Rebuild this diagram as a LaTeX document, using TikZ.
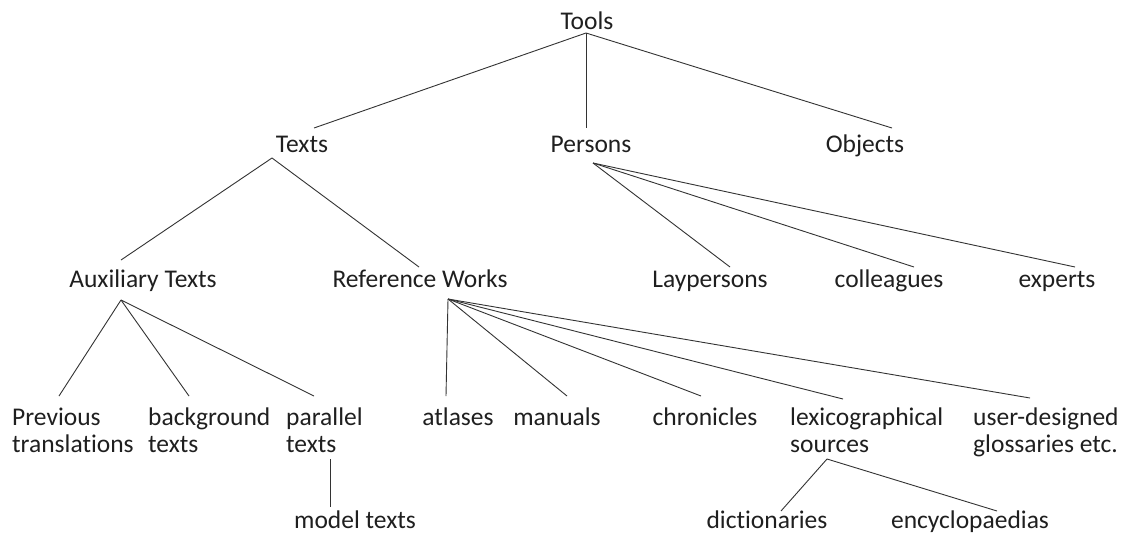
\documentclass[tikz,border=0pt]{standalone}
\usepackage{fontspec}
\setmainfont{Carlito}[Ligatures=NoCommon]
\begin{document}
\begin{tikzpicture}[x=1pt,y=-1pt,
  lbl/.style={inner sep=0pt,font=\fontsize{25.5}{27}\selectfont,text=black!88},
  conn/.style={line width=0.9pt,draw=black!80}]
\useasboundingbox[fill=white] (0,0) rectangle (1123,536);
% level 0
\node[lbl,anchor=base] (tools) at (587,29) {Tools};
% level 1
\node[lbl,anchor=base] (texts) at (302,152) {Texts};
\node[lbl,anchor=base] (persons) at (591,152) {Persons};
\node[lbl,anchor=base] (objects) at (865,152) {Objects};
% level 2
\node[lbl,anchor=base] (aux) at (143,287) {Auxiliary Texts};
\node[lbl,anchor=base] (ref) at (420,287) {Reference Works};
\node[lbl,anchor=base] (lay) at (710,287) {Laypersons};
\node[lbl,anchor=base] (col) at (889,287) {colleagues};
\node[lbl,anchor=base] (exp) at (1057,287) {experts};
% level 3
\node[lbl,anchor=base west,align=left] (prev) at (12,452) {Previous\\translations};
\node[lbl,anchor=base west,align=left] (back) at (148,452) {background\\texts};
\node[lbl,anchor=base west,align=left] (par) at (286,452) {parallel\\texts};
\node[lbl,anchor=base] (atl) at (458,425) {atlases};
\node[lbl,anchor=base] (man) at (557,425) {manuals};
\node[lbl,anchor=base] (chr) at (705,425) {chronicles};
\node[lbl,anchor=base west,align=left] (lex) at (790,452) {lexicographical\\sources};
\node[lbl,anchor=base west,align=left] (user) at (973,452) {user-designed\\glossaries etc.};
% level 4
\node[lbl,anchor=base] (model) at (355,528) {model texts};
\node[lbl,anchor=base] (dict) at (767,528) {dictionaries};
\node[lbl,anchor=base] (ency) at (970,528) {encyclopaedias};
% connector end points
\coordinate (toolsB) at (586,33);
\coordinate (textsT) at (314,128);
\coordinate (personsT) at (586,128);
\coordinate (objectsT) at (892,128);
\coordinate (textsB) at (272,158);
\coordinate (auxT) at (121,260);
\coordinate (refT) at (419,267);
\coordinate (personsB) at (593,163);
\coordinate (layT) at (730,267);
\coordinate (colT) at (914,267);
\coordinate (expT) at (1075,267);
\coordinate (auxB) at (121,300);
\coordinate (prevT) at (59,396);
\coordinate (backT) at (189,396);
\coordinate (parT) at (314,396);
\coordinate (refB) at (448,299);
\coordinate (atlT) at (446,396);
\coordinate (manT) at (567,396);
\coordinate (chrT) at (701,396);
\coordinate (lexT) at (843,399);
\coordinate (userT) at (1030,398);
\coordinate (parB) at (330,459);
\coordinate (modelT) at (330,507);
\coordinate (lexB) at (827,459);
\coordinate (dictT) at (781,511);
\coordinate (encyT) at (997,511);
% connectors
\draw[conn] (toolsB) -- (textsT);
\draw[conn] (toolsB) -- (personsT);
\draw[conn] (toolsB) -- (objectsT);
\draw[conn] (textsB) -- (auxT);
\draw[conn] (textsB) -- (refT);
\draw[conn] (personsB) -- (layT);
\draw[conn] (personsB) -- (colT);
\draw[conn] (personsB) -- (expT);
\draw[conn] (auxB) -- (prevT);
\draw[conn] (auxB) -- (backT);
\draw[conn] (auxB) -- (parT);
\draw[conn] (refB) -- (atlT);
\draw[conn] (refB) -- (manT);
\draw[conn] (refB) -- (chrT);
\draw[conn] (refB) -- (lexT);
\draw[conn] (refB) -- (userT);
\draw[conn] (parB) -- (modelT);
\draw[conn] (lexB) -- (dictT);
\draw[conn] (lexB) -- (encyT);
\end{tikzpicture}
\end{document}
